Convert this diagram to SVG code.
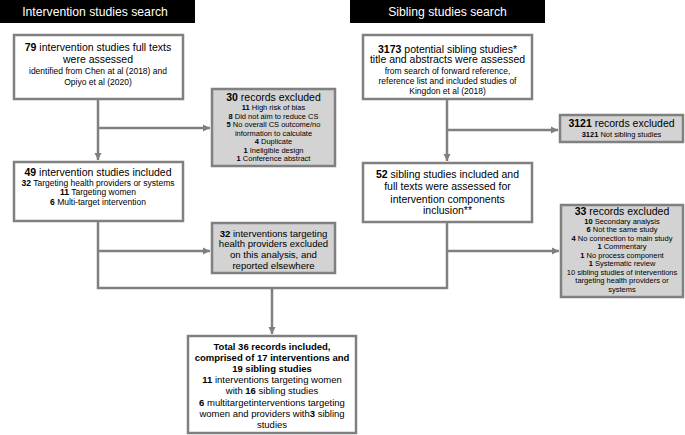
<svg xmlns="http://www.w3.org/2000/svg" width="685" height="435" viewBox="0 0 685 435">
<defs>
<marker id="arr" markerUnits="userSpaceOnUse" markerWidth="8" markerHeight="8" refX="7" refY="4" orient="auto">
<path d="M0,0.5 L7,4 L0,7.5 Z" fill="#7f7f7f"/>
</marker>
<style>
text{font-family:"Liberation Sans",Arial,sans-serif;fill:#000;text-anchor:middle}
.hd{fill:#fff;font-size:12.2px}
.big{font-size:10.5px}
.mid{font-size:9.6px}
.sm{font-size:8.5px}
.xs{font-size:7.5px}
.tb{font-size:9.5px}
.b{font-weight:bold}
.box{fill:#fff;stroke:#808080;stroke-width:2.5}
.exc{fill:#d3d3d3;stroke:#808080;stroke-width:2.5}
.ln{fill:none;stroke:#808080;stroke-width:2.5}
</style>
</defs>
<g id="header-left"><rect x="0" y="0" width="195" height="23" fill="#000"/><text class="hd" x="95" y="16">Intervention studies search</text></g>
<g id="header-right"><rect x="350" y="0" width="195" height="23" fill="#000"/><text class="hd" x="447.5" y="16">Sibling studies search</text></g>
<g id="connectors">
<path class="ln" d="M98,99 V160" marker-end="url(#arr)"/>
<path class="ln" d="M98,128 H210" marker-end="url(#arr)"/>
<path class="ln" d="M98,221 V288 H447"/>
<path class="ln" d="M98,251 H210" marker-end="url(#arr)"/>
<path class="ln" d="M447,99 V161" marker-end="url(#arr)"/>
<path class="ln" d="M447,130 H558" marker-end="url(#arr)"/>
<path class="ln" d="M447,222 V289"/>
<path class="ln" d="M447,251 H559" marker-end="url(#arr)"/>
<path class="ln" d="M272,288 V334" marker-end="url(#arr)"/>
</g>
<g id="n79">
<rect class="box" x="14" y="35" width="169" height="64"/>
<text class="big" x="98" y="51"><tspan class="b">79</tspan> intervention studies full texts</text>
<text class="big" x="98" y="63">were assessed</text>
<text class="sm" x="98" y="74">identified from Chen at al (2018) and</text>
<text class="sm" x="98" y="84.5">Opiyo et al (2020)</text>
</g>
<g id="n30">
<rect class="exc" x="212" y="89" width="123" height="77"/>
<text class="big" x="273.5" y="100.5"><tspan class="b">30</tspan> records excluded</text>
<text class="xs" x="273.5" y="110"><tspan class="b">11</tspan> High risk of bias</text>
<text class="xs" x="273.5" y="118.5"><tspan class="b">8</tspan> Did not aim to reduce CS</text>
<text class="xs" x="273.5" y="127"><tspan class="b">5</tspan> No overall CS outcome/no</text>
<text class="xs" x="273.5" y="135.5">information to calculate</text>
<text class="xs" x="273.5" y="144"><tspan class="b">4</tspan> Duplicate</text>
<text class="xs" x="273.5" y="152.5"><tspan class="b">1</tspan> Ineligible design</text>
<text class="xs" x="273.5" y="161"><tspan class="b">1</tspan> Conference abstract</text>
</g>
<g id="n49">
<rect class="box" x="14" y="162" width="169" height="59"/>
<text class="big" x="98" y="176"><tspan class="b">49</tspan> intervention studies included</text>
<text class="sm" x="98" y="185.5"><tspan class="b">32</tspan> Targeting health providers or systems</text>
<text class="sm" x="98" y="195"><tspan class="b">11</tspan> Targeting women</text>
<text class="sm" x="98" y="204.5"><tspan class="b">6</tspan> Multi-target intervention</text>
</g>
<g id="n32">
<rect class="exc" x="212" y="223" width="123" height="50"/>
<text class="mid" x="273.5" y="236.5"><tspan class="b">32</tspan> interventions targeting</text>
<text class="mid" x="273.5" y="247">health providers excluded</text>
<text class="mid" x="273.5" y="258">on this analysis, and</text>
<text class="mid" x="273.5" y="268.5">reported elsewhere</text>
</g>
<g id="n3173">
<rect class="box" x="363" y="35" width="169" height="64"/>
<text class="big" x="447.5" y="52.5"><tspan class="b">3173</tspan> potential sibling studies*</text>
<text class="big" x="447.5" y="63">title and abstracts were assessed</text>
<text class="sm" x="447.5" y="73.5">from search of forward reference,</text>
<text class="sm" x="447.5" y="84">reference list and included studies of</text>
<text class="sm" x="447.5" y="94">Kingdon et al (2018)</text>
</g>
<g id="n3121">
<rect class="exc" x="560" y="115" width="123" height="27"/>
<text class="big" x="621.5" y="127"><tspan class="b">3121</tspan> records excluded</text>
<text class="xs" x="621.5" y="136.5"><tspan class="b">3121</tspan> Not sibling studies</text>
</g>
<g id="n52">
<rect class="box" x="363" y="163" width="169" height="59"/>
<text class="big" x="447.5" y="177.5"><tspan class="b">52</tspan> sibling studies included and</text>
<text class="big" x="447.5" y="190">full texts were assessed for</text>
<text class="big" x="447.5" y="202.5">intervention components</text>
<text class="big" x="447.5" y="214">inclusion**</text>
</g>
<g id="n33">
<rect class="exc" x="561" y="205" width="122" height="92"/>
<text class="big" x="622" y="215"><tspan class="b">33</tspan> records excluded</text>
<text class="xs" x="622" y="223.5"><tspan class="b">10</tspan> Secondary analysis</text>
<text class="xs" x="622" y="232"><tspan class="b">6</tspan> Not the same study</text>
<text class="xs" x="622" y="240.5"><tspan class="b">4</tspan> No connection to main study</text>
<text class="xs" x="622" y="249"><tspan class="b">1</tspan> Commentary</text>
<text class="xs" x="622" y="257.5"><tspan class="b">1</tspan> No process component</text>
<text class="xs" x="622" y="266"><tspan class="b">1</tspan> Systematic review</text>
<text class="xs" x="622" y="274.5">10 sibling studies of interventions</text>
<text class="xs" x="622" y="283">targeting health providers or</text>
<text class="xs" x="622" y="291.5">systems</text>
</g>
<g id="ntotal">
<rect class="box" x="188" y="336" width="168" height="97"/>
<text class="tb b" x="272" y="350">Total 36 records included,</text>
<text class="tb b" x="272" y="361">comprised of 17 interventions and</text>
<text class="tb b" x="272" y="372">19 sibling studies</text>
<text class="tb" x="272" y="383"><tspan class="b">11</tspan> interventions targeting women</text>
<text class="tb" x="272" y="394">with <tspan class="b">16</tspan> sibling studies</text>
<text class="tb" x="272" y="405.5"><tspan class="b">6</tspan> multitargetinterventions targeting</text>
<text class="tb" x="272" y="417">women and providers with<tspan class="b">3</tspan> sibling</text>
<text class="tb" x="272" y="427.5">studies</text>
</g>
</svg>
